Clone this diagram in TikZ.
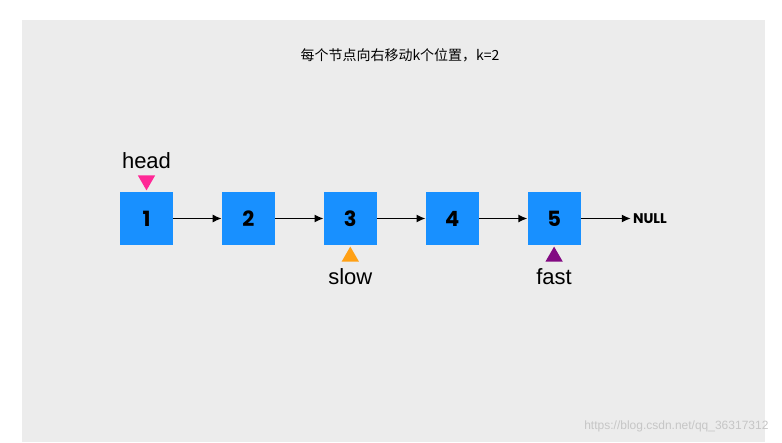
\documentclass[tikz,border=0pt]{standalone}
\usepackage{fontspec}
\setmainfont{Liberation Sans}
\newfontfamily\cjk{Noto Sans CJK SC}
\newfontfamily\pop{Poppins}
\usetikzlibrary{positioning,shapes.geometric,arrows.meta}
\definecolor{panelgrey}{RGB}{236,236,236}
\definecolor{boxblue}{RGB}{24,144,255}
\definecolor{headpink}{RGB}{255,40,150}
\definecolor{sloworange}{RGB}{255,160,20}
\definecolor{fastpurple}{RGB}{130,10,130}
\begin{document}
\begin{tikzpicture}[x=1pt,y=-1pt,
    node distance=48.5pt,
 listnode/.style = {
        fill=boxblue, minimum size=53pt, inner sep=0pt,
        font=\pop\bfseries\fontsize{21}{21}\selectfont},
 pointer/.style = {
        isosceles triangle, isosceles triangle apex angle=60,
        minimum height=15pt, inner sep=0pt},
 ptrlabel/.style = {font=\fontsize{22}{22}\selectfont},
    arrow/.style = {line width=1.4pt,-{Latex[length=9pt,width=8pt]}}
                    ]
\useasboundingbox (0,0) rectangle (782,442);
\fill[white] (0,0) rectangle (782,442);
\fill[panelgrey] (22,20) rectangle (765,442);
% the title
\node (title) at (400,55) {\cjk\fontsize{14}{14}\selectfont 每个节点向右移动k个位置，k=2};
% the list
\node (n1) [listnode] at (146.5,218.5) {1};
\node (n2) [listnode,right=of n1] {2};
\node (n3) [listnode,right=of n2] {3};
\node (n4) [listnode,right=of n3] {4};
\node (n5) [listnode,right=of n4] {5};
\node (null) [right=50pt of n5,font=\pop\bfseries\fontsize{14}{14}\selectfont,inner sep=2pt] {NULL};
\foreach \a/\b in {n1/n2,n2/n3,n3/n4,n4/n5,n5/null}
    \draw[arrow] (\a) -- (\b);
% the pointers
\node (hp) [pointer,fill=headpink,shape border rotate=-90,above=1pt of n1] {};
\node (hl) [ptrlabel,above=3pt of hp] {head};
\node (sp) [pointer,fill=sloworange,shape border rotate=90,below=1pt of n3] {};
\node (sl) [ptrlabel,below=3pt of sp] {slow};
\node (fp) [pointer,fill=fastpurple,shape border rotate=90,below=1pt of n5] {};
\node (fl) [ptrlabel,below=3pt of fp] {fast};
% watermark
\node (wm) [anchor=east,text=gray!45,font=\fontsize{12}{12}\selectfont] at (772,426) {https://blog.csdn.net/qq\_36317312};
\end{tikzpicture}
\end{document}
